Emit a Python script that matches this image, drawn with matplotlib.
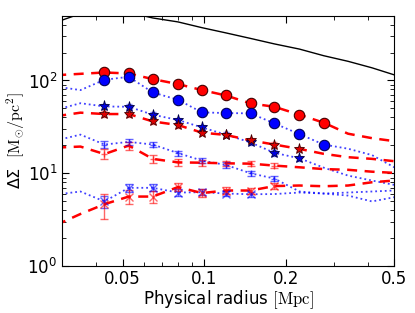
import numpy as np
import matplotlib
matplotlib.use("Agg")
import matplotlib.pyplot as plt
from matplotlib.ticker import FixedLocator, FixedFormatter, LogLocator, NullFormatter

plt.rcParams['font.family'] = ['DejaVu Sans']
plt.rcParams['mathtext.fontset'] = 'cm'
plt.rcParams['font.size'] = 11

# radial bins (Mpc)
radius = [0.0285, 0.035, 0.0429, 0.0527, 0.0646, 0.080, 0.098, 0.120,
          0.148, 0.181, 0.224, 0.275, 0.338, 0.414, 0.5]

model = [425, 525, 550, 543, 472, 428, 371, 326, 284, 248, 218, 185, 161, 137, 115]

red_circ = [114, 118, 122, 119, 103.5, 91.5, 78.8, 69.0, 56.6, 52.1, 42.8, 35.1, 26.7, 23.9, 22.2]
blue_circ = [86, 78.8, 101.8, 109.6, 74.3, 62.0, 45.3, 44.6, 44.2, 34.5, 26.4, 20.4, 18.4, 15.7, 11.6]
blue_star = [48.4, 56.9, 52.5, 52.1, 42.8, 37.5, 31.2, 26.1, 21.5, 16.6, 14.5, 11.5, 9.44, 8.35, 7.50]
red_star = [41.2, 45.0, 43.5, 43.5, 36.2, 33.1, 27.4, 25.9, 22.6, 20.4, 18.3, 16.2, 14.9, 14.3, 13.5]
blue_plus = [22.6, 26.1, 20.4, 21.8, 20.4, 16.5, 13.7, 12.3, 10.0, 8.77, 6.36, 6.05, 5.75, 4.97, 5.52]
red_plus = [18.9, 19.4, 16.1, 19.9, 14.3, 13.1, 13.0, 12.8, 12.7, 12.1, 11.6, 11.1, 10.9, 10.4, 10.1]
blue_x = [5.90, 6.36, 4.97, 6.97, 6.97, 6.20, 6.25, 6.05, 5.94, 5.97, 6.20, 6.05, 6.20, 6.36, 6.52]
red_x = [2.77, 3.64, 4.64, 5.61, 5.61, 7.10, 6.12, 6.52, 6.52, 7.28, 7.38, 7.25, 7.38, 8.00, 8.35]

# errors on measured points
red_circ_err = [6, 6, 5, 4.5, 4, 3.5, 3, 2.6, 2.3, 2.0]
blue_circ_err = [7, 6, 4.5, 4, 3, 3, 3, 2.4, 2.0, 1.6]
blue_star_err = [3.5, 3.2, 2.6, 2.2, 1.9, 1.6, 1.3, 1.1, 1.0]
red_star_err = [3.0, 3.0, 2.4, 2.0, 1.7, 1.5, 1.3, 1.2, 1.1]
blue_plus_err = [1.8, 1.5, 1.2, 1.0, 0.8, 0.8, 0.7, 0.6]
red_plus_err = [2.0, 2.0, 1.5, 1.2, 1.0, 0.9, 0.8, 0.7]
blue_x_err = [0.7, 0.7, 0.6, 0.5, 0.45, 0.4, 0.4]
red_x_err = [1.4, 1.0, 0.8, 0.7, 0.6, 0.6, 0.5, 0.5]

xticks = [0.05, 0.1, 0.2, 0.5]
xticklabels = ['0.05', '0.1', '0.2', '0.5']

fig = plt.figure(figsize=(4.15, 3.13), dpi=100)
ax = fig.add_axes([0.15, 0.15, 0.80, 0.80])
ax.set_xscale('log')
ax.set_yscale('log')

r = np.array(radius)

ax.plot(r, model, color='black', lw=1.0, zorder=2)

red_kw = dict(color='red', ls='--', lw=1.8, dashes=(4, 3))
blue_kw = dict(color='blue', ls=':', lw=1.3, alpha=0.75)

ax.plot(r, red_circ, **red_kw)
ax.plot(r, blue_circ, **blue_kw)
ax.plot(r, blue_star, **blue_kw)
ax.plot(r, red_star, **red_kw)
ax.plot(r, blue_plus, **blue_kw)
ax.plot(r, red_plus, **red_kw)
ax.plot(r, blue_x, **blue_kw)
ax.plot(r, red_x, **red_kw)

def pts(vals, n, start=2):
    return r[start:start + n], np.array(vals)[start:start + n]

x, y = pts(red_circ, len(red_circ_err))
ax.errorbar(x, y, yerr=red_circ_err, fmt='none', ecolor='red', alpha=0.5, capsize=2, lw=1)
ax.plot(x, y, 'o', ms=7.5, mfc='red', mec='#440000', mew=0.8, zorder=5)

x, y = pts(blue_circ, len(blue_circ_err))
ax.errorbar(x, y, yerr=blue_circ_err, fmt='none', ecolor='blue', alpha=0.5, capsize=2, lw=1)
ax.plot(x, y, 'o', ms=7.5, mfc='blue', mec='#000055', mew=0.8, zorder=5)

x, y = pts(blue_star, len(blue_star_err))
ax.errorbar(x, y, yerr=blue_star_err, fmt='none', ecolor='blue', alpha=0.5, capsize=2, lw=1)
ax.plot(x, y, '*', ms=8, mfc='#0000dd', mec='#000044', mew=0.6, zorder=5)

x, y = pts(red_star, len(red_star_err))
ax.errorbar(x, y, yerr=red_star_err, fmt='none', ecolor='red', alpha=0.5, capsize=2, lw=1)
ax.plot(x, y, '*', ms=8, mfc='#dd0000', mec='#440000', mew=0.6, zorder=5)

x, y = pts(blue_plus, len(blue_plus_err))
ax.errorbar(x, y, yerr=blue_plus_err, fmt='+', color='blue', alpha=0.6, capsize=3, lw=1, ms=5)

x, y = pts(red_plus, len(red_plus_err))
ax.errorbar(x, y, yerr=red_plus_err, fmt='+', color='red', alpha=0.6, capsize=3, lw=1, ms=5)

x, y = pts(blue_x, len(blue_x_err))
ax.errorbar(x, y, yerr=blue_x_err, fmt='x', color='blue', alpha=0.6, capsize=3, lw=1, ms=6)

x, y = pts(red_x, len(red_x_err))
ax.errorbar(x, y, yerr=red_x_err, fmt='x', color='red', alpha=0.6, capsize=3, lw=1, ms=6)

ax.set_xlim(0.03, 0.5)
ax.set_ylim(1, 500)

ax.xaxis.set_major_locator(FixedLocator(xticks))
ax.xaxis.set_major_formatter(FixedFormatter(xticklabels))
ax.xaxis.set_minor_locator(LogLocator(base=10, subs=np.arange(2, 10) * 0.1 * 10, numticks=20))
ax.xaxis.set_minor_formatter(NullFormatter())

ax.tick_params(which='both', direction='in', top=True, right=True, labelsize=12)
ax.tick_params(which='major', length=5, width=0.8)
ax.tick_params(which='minor', length=3, width=0.6)
ax.tick_params(axis='x', pad=3)

ax.set_xlabel('Physical radius $[\\mathrm{Mpc}]$', fontsize=12, labelpad=0)
ax.set_ylabel('ΔΣ  $[\\mathrm{M_{\\odot}/pc^2}]$', fontsize=11.5, labelpad=0)

fig.savefig('out.png', dpi=100)
